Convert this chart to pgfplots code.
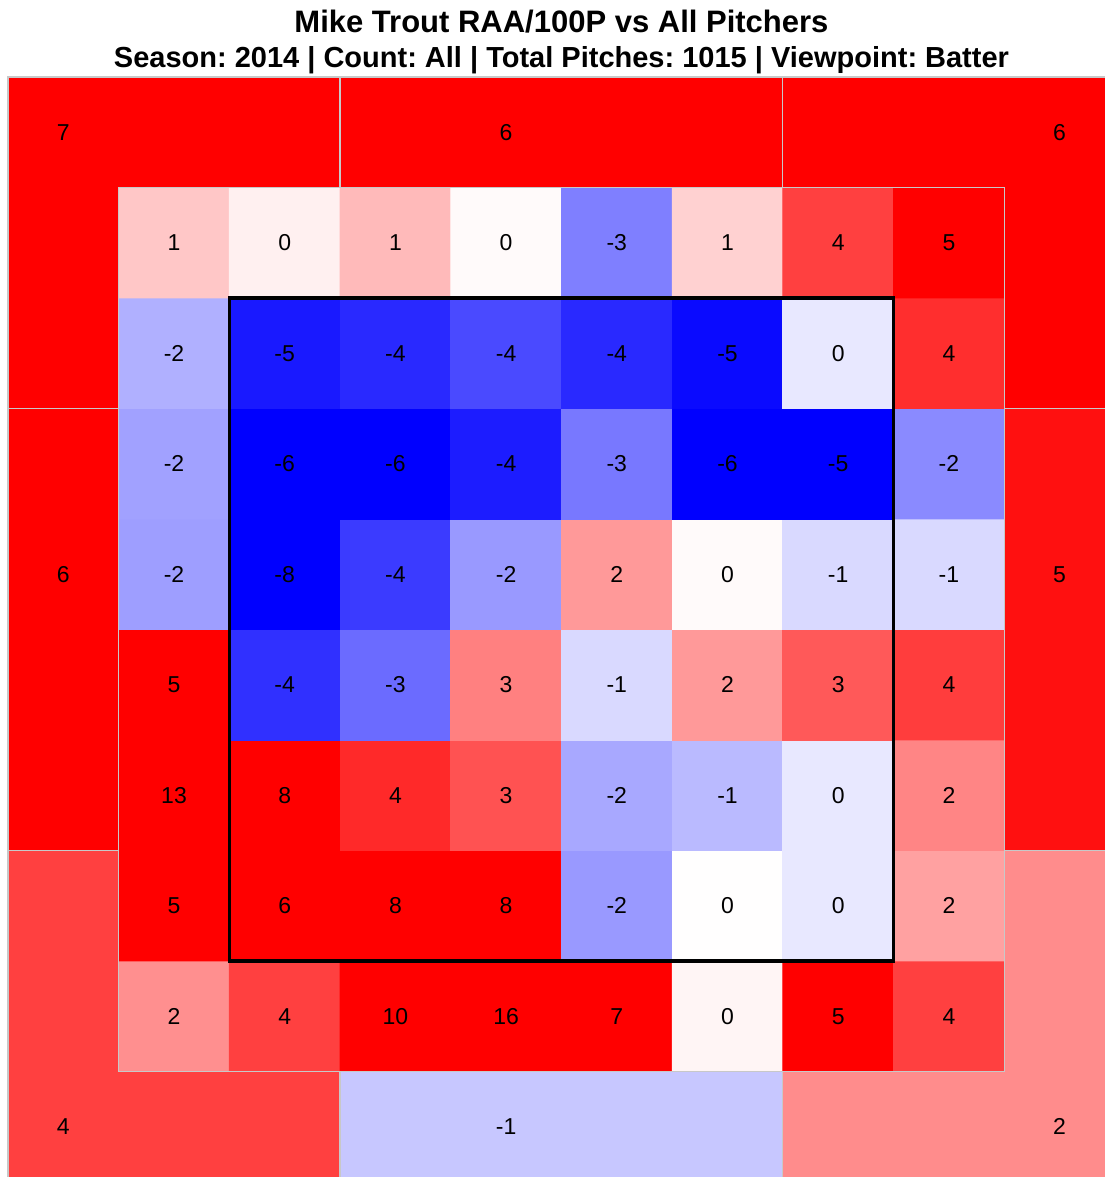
\documentclass[border=0pt]{standalone}
\usepackage{fontspec}
\setmainfont{Liberation Sans}
\usepackage{pgfplots}
\pgfplotsset{compat=1.18}
\usepackage{pgfplotstable}
\frenchspacing

% inner 8x8 zone grid: x, y (cell centre), shown value v, colour value c
\pgfplotstableread{
x y v c
1.5 1.5 2 2.2
2.5 1.5 4 3.75
3.5 1.5 10 5
4.5 1.5 16 5
5.5 1.5 7 5
6.5 1.5 0 0.2
7.5 1.5 5 5
8.5 1.5 4 3.75
1.5 2.5 5 5
2.5 2.5 6 5
3.5 2.5 8 5
4.5 2.5 8 5
5.5 2.5 -2 -2.0
6.5 2.5 0 0.03
7.5 2.5 0 -0.45
8.5 2.5 2 1.85
1.5 3.5 13 5
2.5 3.5 8 5
3.5 3.5 4 4.2
4.5 3.5 3 3.4
5.5 3.5 -2 -1.7
6.5 3.5 -1 -1.35
7.5 3.5 0 -0.45
8.5 3.5 2 2.4
1.5 4.5 5 5
2.5 4.5 -4 -4.05
3.5 4.5 -3 -2.9
4.5 4.5 3 2.5
5.5 4.5 -1 -0.75
6.5 4.5 2 2.0
7.5 4.5 3 3.25
8.5 4.5 4 3.8
1.5 5.5 -2 -1.9
2.5 5.5 -8 -5
3.5 5.5 -4 -3.85
4.5 5.5 -2 -2.0
5.5 5.5 2 2.0
6.5 5.5 0 0.1
7.5 5.5 -1 -0.75
8.5 5.5 -1 -0.75
1.5 6.5 -2 -1.85
2.5 6.5 -6 -5
3.5 6.5 -6 -5
4.5 6.5 -4 -4.45
5.5 6.5 -3 -2.65
6.5 6.5 -6 -5
7.5 6.5 -5 -5
8.5 6.5 -2 -2.3
1.5 7.5 -2 -1.55
2.5 7.5 -5 -4.5
3.5 7.5 -4 -4.2
4.5 7.5 -4 -3.55
5.5 7.5 -4 -4.2
6.5 7.5 -5 -4.8
7.5 7.5 0 -0.45
8.5 7.5 4 4.1
1.5 8.5 1 1.1
2.5 8.5 0 0.3
3.5 8.5 1 1.35
4.5 8.5 0 0.1
5.5 8.5 -3 -2.5
6.5 8.5 1 0.9
7.5 8.5 4 3.75
8.5 8.5 5 5
}\inner

% outer regions as rectangles (4 corners each), colour value c
\pgfplotstableread{
x y c
0 9 5
3 9 5
3 10 5
0 10 5
0 7 5
1 7 5
1 9 5
0 9 5
3 9 5
7 9 5
7 10 5
3 10 5
7 9 5
10 9 5
10 10 5
7 10 5
9 7 5
10 7 5
10 9 5
9 9 5
0 3 5
1 3 5
1 7 5
0 7 5
9 3 4.7
10 3 4.7
10 7 4.7
9 7 4.7
0 0 3.75
3 0 3.75
3 1 3.75
0 1 3.75
0 1 3.75
1 1 3.75
1 3 3.75
0 3 3.75
3 0 -1.1
7 0 -1.1
7 1 -1.1
3 1 -1.1
7 0 2.25
10 0 2.25
10 1 2.25
7 1 2.25
9 1 2.25
10 1 2.25
10 3 2.25
9 3 2.25
}\outer

% outer region labels
\pgfplotstableread{
x y v
0.5 9.5 7
4.5 9.5 6
9.5 9.5 6
0.5 5.5 6
9.5 5.5 5
0.5 0.5 4
4.5 0.5 -1
9.5 0.5 2
}\outerlab

\definecolor{gridgray}{RGB}{200,200,200}

\begin{document}
\begin{tikzpicture}
\begin{axis}[
  scale only axis,
  width=553.5pt, height=552.5pt,
  xmin=0, xmax=10, ymin=0, ymax=10,
  hide axis, clip=false,
  colormap={bwr}{rgb255=(0,0,255) rgb255=(255,255,255) rgb255=(255,0,0)},
  point meta min=-5, point meta max=5,
]
\addplot[patch, patch type=rectangle, shader=flat, point meta=explicit]
  table[x=x, y=y, meta=c] {\outer};
\addplot[matrix plot*, mesh/cols=8, point meta=explicit]
  table[x=x, y=y, meta=c] {\inner};

% light grey borders
\draw[gridgray, line width=0.6pt] (axis cs:0,0) rectangle (axis cs:10,10);
\draw[gridgray, line width=0.6pt] (axis cs:1,1) rectangle (axis cs:9,9);
\draw[gridgray, line width=0.6pt]
  (axis cs:3,9) -- (axis cs:3,10)
  (axis cs:7,9) -- (axis cs:7,10)
  (axis cs:3,0) -- (axis cs:3,1)
  (axis cs:7,0) -- (axis cs:7,1)
  (axis cs:0,7) -- (axis cs:1,7)
  (axis cs:0,3) -- (axis cs:1,3)
  (axis cs:9,7) -- (axis cs:10,7)
  (axis cs:9,3) -- (axis cs:10,3);

% strike zone
\draw[black, line width=1.6pt] (axis cs:2,2) rectangle (axis cs:8,8);

\addplot[only marks, mark=none, nodes near coords, nodes near coords align=center,
  point meta=explicit symbolic,
  every node near coord/.append style={anchor=center, text=black, font=\fontsize{11.5}{13}\selectfont}]
  table[x=x, y=y, meta=v] {\inner};
\addplot[only marks, mark=none, nodes near coords, nodes near coords align=center,
  point meta=explicit symbolic,
  every node near coord/.append style={anchor=center, text=black, font=\fontsize{11.5}{13}\selectfont}]
  table[x=x, y=y, meta=v] {\outerlab};

\node[font=\bfseries\fontsize{15.5}{18}\selectfont] at (axis cs:5.0,10.5) {Mike Trout RAA/100P vs All Pitchers};
\node[font=\bfseries\fontsize{14.5}{17}\selectfont] at (axis cs:5.0,10.15) {Season: 2014 | Count: All | Total Pitches: 1015 | Viewpoint: Batter};

\coordinate (bl) at (axis cs:-0.072,0.045);
\coordinate (tr) at (axis cs:9.91,10.697);
\end{axis}
\pgfresetboundingbox
\useasboundingbox (bl) rectangle (tr);
\end{tikzpicture}
\end{document}
